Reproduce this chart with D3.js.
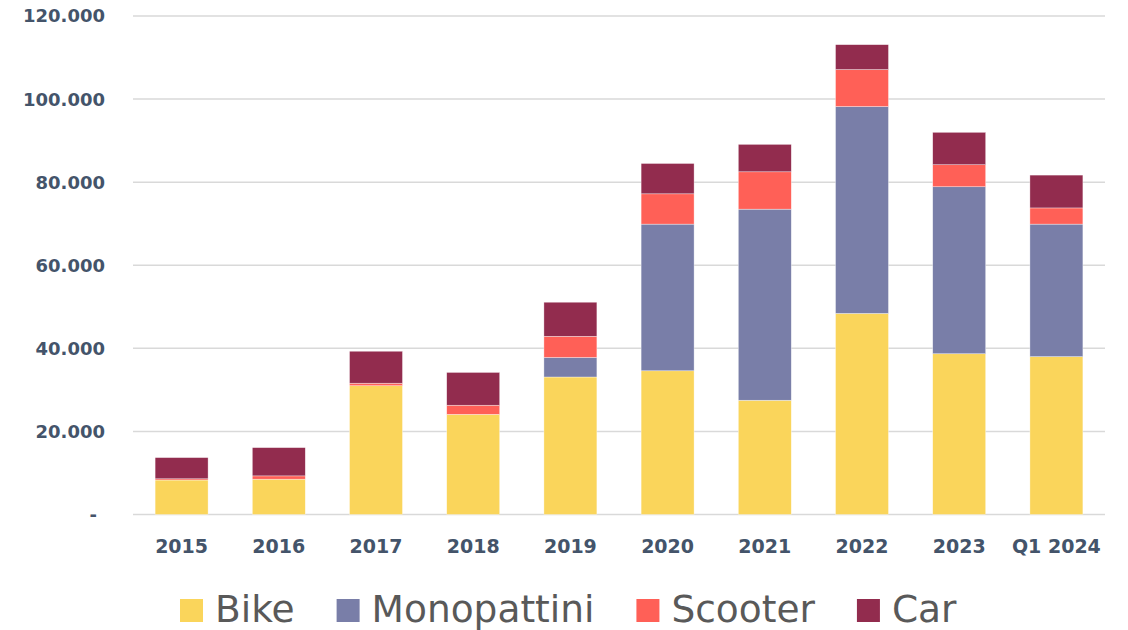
<!DOCTYPE html>
<html>
<head>
<meta charset="utf-8">
<script src="https://cdn.jsdelivr.net/npm/d3@7"></script>
<style>
  body { margin: 0; background: #fff; }
  svg { display: block; }
</style>
</head>
<body>
<div id="chart"></div>
<script>
// data
var years = ["2015", "2016", "2017", "2018", "2019", "2020", "2021", "2022", "2023", "Q1 2024"];
var bike = [8300, 8500, 31000, 24100, 33100, 34600, 27500, 48400, 38700, 38000];
var monopattini = [0, 0, 0, 0, 4700, 35300, 46000, 49800, 40200, 31900];
var scooter = [300, 800, 600, 2200, 5100, 7300, 9000, 8900, 5300, 3900];
var car = [5100, 6800, 7700, 7900, 8200, 7300, 6600, 6000, 7800, 7900];
var yTicks = [0, 20000, 40000, 60000, 80000, 100000, 120000];

var seriesNames = ["Bike", "Monopattini", "Scooter", "Car"];
var colors = ["#fad55b", "#797ea8", "#ff6057", "#922c4e"];

var svgWidth = 1128;
var svgHeight = 630;

var svg = d3.select("#chart")
  .append("svg")
  .attr("width", svgWidth)
  .attr("height", svgHeight);

// build rows for d3.stack
var rows = years.map(function(y, i) {
  return { year: y, Bike: bike[i], Monopattini: monopattini[i], Scooter: scooter[i], Car: car[i] };
});
var stacked = d3.stack().keys(seriesNames)(rows);

var x = d3.scaleBand()
  .domain(years)
  .range([133, 1105])
  .paddingInner(0.455)
  .paddingOuter(0.2275);

var y = d3.scaleLinear()
  .domain([0, 120000])
  .range([514.5, 16]);

// gridlines
svg.append("g")
  .selectAll("line")
  .data(yTicks)
  .enter()
  .append("line")
  .attr("x1", 133)
  .attr("x2", 1105)
  .attr("y1", d => y(d))
  .attr("y2", d => y(d))
  .attr("stroke", "#d9d9d9")
  .attr("stroke-width", 1.5);

// y labels
var fmt = function(d) {
  return d === 0 ? "-" : d3.format(",")(d).replace(/,/g, ".");
};
svg.append("g")
  .selectAll("text")
  .data(yTicks)
  .enter()
  .append("text")
  .attr("x", d => d === 0 ? 97 : 105)
  .attr("y", d => y(d))
  .attr("dy", "0.36em")
  .attr("text-anchor", "end")
  .attr("font-family", "DejaVu Sans")
  .attr("font-weight", "bold")
  .attr("font-size", "18px")
  .attr("fill", "#44546a")
  .text(fmt);

// stacked bars
svg.append("g")
  .selectAll("g")
  .data(stacked)
  .enter()
  .append("g")
  .attr("fill", (d, i) => colors[i])
  .selectAll("rect")
  .data(d => d)
  .enter()
  .append("rect")
  .attr("x", d => x(d.data.year))
  .attr("width", x.bandwidth())
  .attr("y", d => y(d[1]))
  .attr("height", d => y(d[0]) - y(d[1]))
  .attr("stroke", "#ffffff")
  .attr("stroke-opacity", 0.6)
  .attr("stroke-width", 0.6);

// x labels
svg.append("g")
  .selectAll("text")
  .data(years)
  .enter()
  .append("text")
  .attr("x", d => x(d) + x.bandwidth() / 2)
  .attr("y", 553)
  .attr("text-anchor", "middle")
  .attr("font-family", "DejaVu Sans")
  .attr("font-weight", "bold")
  .attr("font-size", "19px")
  .attr("fill", "#44546a")
  .text(d => d);

// legend
var legend = svg.append("g");
var lx = 180;
seriesNames.forEach(function(name, i) {
  legend.append("rect")
    .attr("x", lx)
    .attr("y", 599)
    .attr("width", 23)
    .attr("height", 23)
    .attr("fill", colors[i]);
  var t = legend.append("text")
    .attr("x", lx + 35)
    .attr("y", 622)
    .attr("font-family", "DejaVu Sans")
    .attr("font-size", "37.5px")
    .attr("fill", "#595959")
    .text(name);
  lx = lx + 35 + t.node().getComputedTextLength() + 42;
});
</script>
</body>
</html>
